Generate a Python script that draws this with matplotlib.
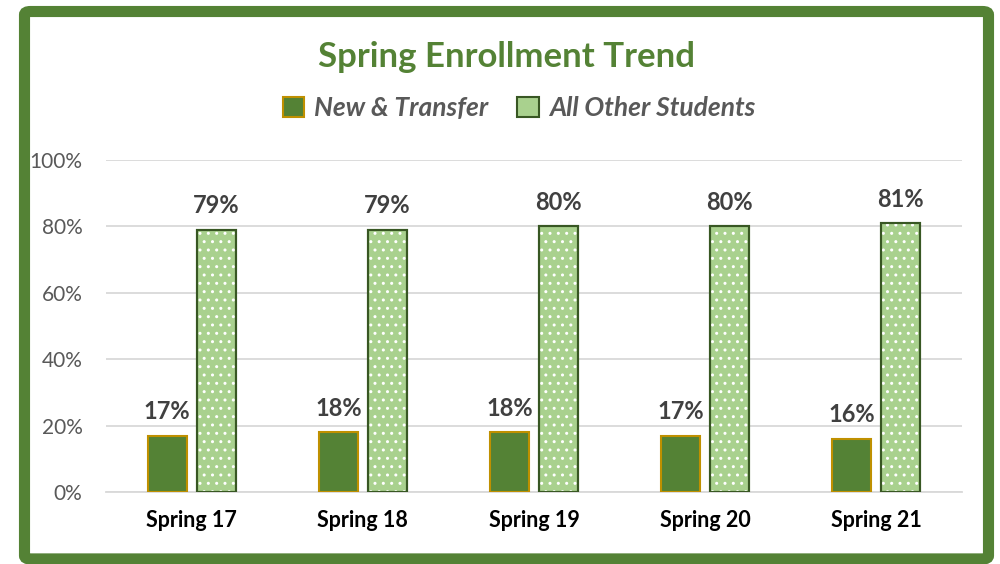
import numpy as np
import matplotlib
matplotlib.use("Agg")
import matplotlib.pyplot as plt
from matplotlib.patches import FancyBboxPatch, Patch

plt.rcParams['font.family'] = ['Lato', 'DejaVu Sans']

terms = ['Spring 17', 'Spring 18', 'Spring 19', 'Spring 20', 'Spring 21']
new_transfer = [0.17, 0.18, 0.18, 0.17, 0.16]
all_other = [0.79, 0.79, 0.80, 0.80, 0.81]
series_names = ['New & Transfer', 'All Other Students']

dark = '#548235'
dark_edge = '#BF9000'
light = '#A9D18E'
light_edge = '#385723'

fig = plt.figure(figsize=(10, 5.64), dpi=100)

# green frame around the chart
frame = FancyBboxPatch((0.0245, 0.009), 0.964, 0.9706, boxstyle='round,pad=0,rounding_size=0.006',
                       transform=fig.transFigure, facecolor='none', edgecolor=dark,
                       linewidth=8, zorder=10)
fig.patches.append(frame)

ax = fig.add_axes([0.106, 0.1277, 0.856, 0.5887])
ax.set_facecolor('none')

x = np.arange(len(terms))
w = 0.228
off = 0.143

b1 = ax.bar(x - off, new_transfer, w, color=dark, edgecolor=dark_edge, linewidth=1.5, zorder=3)
b2 = ax.bar(x + off, all_other, w, color=light, edgecolor=light_edge, linewidth=1.5, zorder=3)
# white dots
ax.bar(x + off, all_other, w, color='none', edgecolor='white', linewidth=0, hatch='..', zorder=4)
ax.bar(x + off, all_other, w, color='none', edgecolor=light_edge, linewidth=1.5, zorder=5)

for bars, vals in ((b1, new_transfer), (b2, all_other)):
    for r, v in zip(bars, vals):
        ax.annotate(f'{v:.0%}', (r.get_x() + r.get_width() / 2, v), xytext=(0, 9),
                    textcoords='offset points', ha='center', va='bottom',
                    fontsize=17, fontweight='bold', color='#404040')

ax.set_xlim(-0.5, len(terms) - 0.5)
ax.set_ylim(0, 1)
ticks = np.arange(0, 1.01, 0.2)
ax.set_yticks(ticks)
ax.set_yticklabels([f'{int(round(t * 100))}%' for t in ticks])
ax.set_xticks(x)
ax.set_xticklabels(terms, fontweight='bold', fontsize=15.5, color='black')
ax.tick_params(axis='y', length=0, pad=17, labelsize=15, labelcolor='#595959')
ax.tick_params(axis='x', length=0, pad=13)
ax.grid(axis='y', color='#D9D9D9', linewidth=1.3, zorder=0)
for s in ['top', 'right', 'left']:
    ax.spines[s].set_visible(False)
ax.spines['bottom'].set_color('#D9D9D9')
ax.spines['bottom'].set_linewidth(1.3)

fig.text(0.507, 1 - 57 / 564, 'Spring Enrollment Trend', ha='center', va='center',
         fontsize=25, fontweight='bold', color=dark)

handles = [Patch(facecolor=dark, edgecolor=dark_edge, linewidth=1.5),
           Patch(facecolor=light, edgecolor=light_edge, linewidth=1.5)]
leg = fig.legend(handles, series_names, loc='center', bbox_to_anchor=(0.519, 1 - 108 / 564),
                 ncol=2, frameon=False, handlelength=0.8, handleheight=0.8, handletextpad=0.4,
                 columnspacing=1.1, prop={'size': 19, 'weight': 'bold', 'style': 'italic'})
for t in leg.get_texts():
    t.set_color('#595959')

fig.savefig('out.png', dpi=100)
